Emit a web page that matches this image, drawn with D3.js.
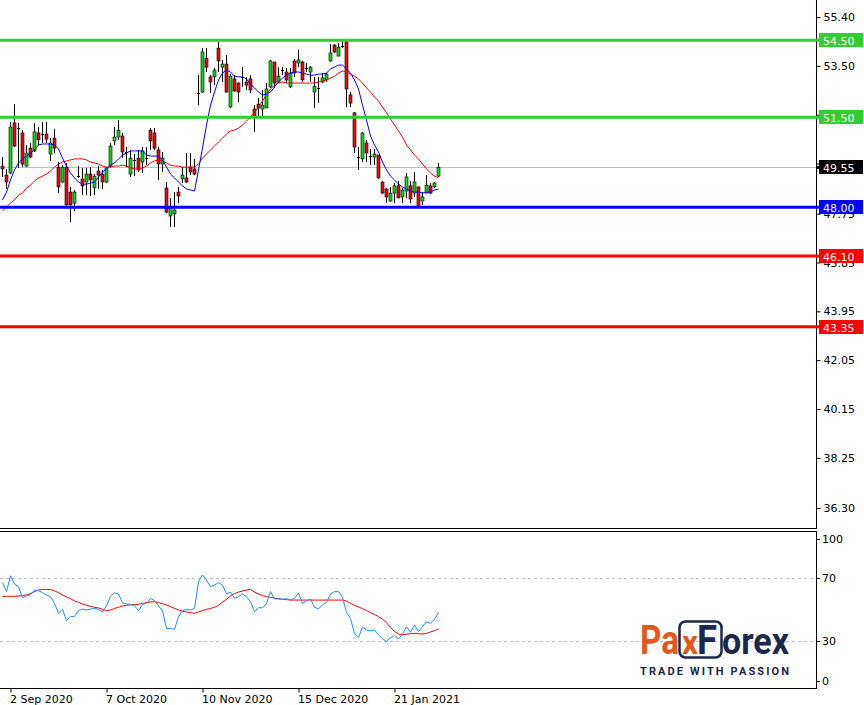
<!DOCTYPE html>
<html><head><meta charset="utf-8">
<script src="https://cdn.jsdelivr.net/npm/d3@7"></script>
<style>body{margin:0;background:#fff}svg{display:block}</style>
</head><body><svg id="c" width="864" height="705"></svg>
<script>
// ---------- data ----------
const openP = [49.60,49.25,49.33,51.28,51.08,50.89,49.60,50.30,50.19,50.89,
50.85,50.85,50.07,50.69,49.56,48.98,49.56,48.59,48.16,49.21,
49.10,48.98,49.29,48.75,49.41,49.29,48.98,49.60,50.58,50.73,
50.77,50.15,49.29,49.84,49.91,49.76,49.91,51.00,50.89,50.23,
49.68,48.75,47.66,47.74,48.59,49.10,49.14,49.56,49.49,52.44,
52.48,53.80,53.07,53.07,54.19,53.45,53.57,51.90,52.99,52.83,
53.07,52.87,52.99,51.82,52.01,51.82,51.86,52.68,53.65,52.87,
53.34,53.26,52.68,53.69,53.61,53.65,53.42,53.26,52.48,52.64,
52.87,52.95,53.69,54.31,53.88,54.27,54.43,52.37,51.67,49.95,
49.88,50.50,49.99,49.95,50.03,48.98,48.71,48.24,48.55,48.83,
48.40,48.63,48.83,48.55,48.79,48.24,48.55,48.83,48.79,49.21];
const highP = [49.95,49.49,51.32,52.01,51.28,51.00,50.42,50.50,51.28,51.12,
51.32,51.32,50.69,51.04,49.76,49.64,49.72,48.79,48.67,49.60,
49.53,49.53,49.56,49.29,49.60,49.45,49.56,50.50,51.12,51.39,
50.89,50.34,50.23,50.07,50.23,50.34,50.34,51.08,51.08,50.34,
50.15,48.98,48.36,48.59,48.79,49.56,50.11,50.11,49.88,53.14,
54.19,54.19,53.14,53.42,54.43,53.73,53.92,53.18,53.14,52.87,
53.45,53.07,53.14,51.97,52.25,52.56,52.83,53.73,53.65,53.45,
53.45,53.42,53.42,53.77,54.12,53.69,53.61,53.49,53.07,53.07,
53.22,53.22,54.35,54.35,54.39,54.54,54.47,52.48,51.70,50.34,
50.93,50.62,50.27,50.27,50.03,49.02,48.75,48.79,48.94,49.02,
48.75,49.33,49.02,49.37,48.79,48.59,49.25,48.94,48.98,49.72];
const lowP = [49.18,48.71,49.29,50.34,49.53,49.56,49.56,49.91,50.15,50.42,
50.50,50.50,49.80,50.11,48.55,48.94,48.01,47.42,47.85,49.14,
48.47,48.47,48.44,48.47,48.71,48.71,48.94,49.56,50.42,50.62,
49.91,49.56,49.18,49.21,49.37,49.33,49.64,50.23,50.23,49.06,
49.37,47.77,47.23,47.23,48.16,48.94,48.94,49.25,49.25,51.97,
52.44,53.26,52.44,52.75,53.26,52.87,52.44,51.86,52.48,52.09,
52.68,52.56,52.44,50.93,51.51,51.51,51.86,52.64,52.64,52.83,
53.14,52.83,52.64,53.07,53.45,52.87,53.26,52.87,51.86,52.05,
52.83,52.87,53.65,54.00,53.88,54.19,51.90,51.90,50.11,49.45,
49.76,49.76,49.64,49.64,49.10,48.51,48.16,48.20,48.16,48.36,
48.16,48.36,48.16,48.40,48.01,48.09,48.55,48.51,48.75,49.18];
const closeP = [49.49,48.98,51.12,50.38,51.04,49.68,50.11,49.95,50.93,50.62,
50.81,50.65,50.50,50.30,48.79,49.56,48.09,48.09,48.59,49.18,
48.83,49.29,49.06,49.21,49.25,48.98,49.53,50.38,50.73,51.00,
50.15,50.11,49.91,49.80,49.45,50.19,49.88,50.58,50.30,49.68,
49.91,47.81,47.97,47.89,48.44,49.25,48.98,49.37,49.29,52.42,
54.04,53.45,52.87,53.34,53.69,53.57,52.48,53.10,52.52,52.48,
53.03,52.75,52.56,51.51,51.86,51.97,52.60,53.69,52.83,53.10,
53.30,52.95,53.22,53.22,53.73,52.95,53.38,53.45,52.71,52.60,
53.03,53.18,54.00,54.04,54.23,54.25,52.60,52.05,50.34,49.91,
50.89,50.11,49.95,50.07,49.14,48.55,48.40,48.55,48.83,48.36,
48.67,49.18,48.32,48.98,48.01,48.40,48.86,48.55,48.94,49.55];
const maFast = [48.28,48.59,49.06,49.45,49.72,49.88,49.99,50.11,50.23,50.42,
50.46,50.46,50.46,50.42,50.27,49.91,49.60,49.33,49.14,48.98,
48.90,48.90,48.94,48.98,49.18,49.37,49.49,49.64,49.72,49.88,
50.03,50.11,50.19,50.19,50.19,50.19,50.03,49.99,49.99,49.99,
49.84,49.56,49.29,49.14,48.98,48.83,48.71,48.67,48.63,49.45,
50.30,51.20,51.97,52.48,52.95,53.22,53.34,53.26,53.10,53.07,
53.07,52.99,52.79,52.64,52.48,52.37,52.40,52.48,52.68,52.87,
53.03,53.14,53.22,53.26,53.26,53.22,53.18,53.14,53.14,53.18,
53.18,53.22,53.38,53.45,53.53,53.53,53.38,53.22,52.95,52.60,
51.97,51.39,50.77,50.42,50.15,49.76,49.45,49.21,49.06,48.90,
48.79,48.71,48.63,48.59,48.59,48.55,48.59,48.59,48.67,48.71];
const maSlow = [47.85,48.01,48.16,48.28,48.47,48.55,48.75,48.86,49.02,49.14,
49.21,49.29,49.41,49.56,49.68,49.76,49.80,49.84,49.88,49.88,
49.88,49.84,49.76,49.72,49.68,49.60,49.56,49.56,49.60,49.60,
49.64,49.60,49.53,49.49,49.49,49.53,49.60,49.72,49.80,49.84,
49.80,49.72,49.64,49.60,49.60,49.56,49.56,49.56,49.56,49.68,
49.91,50.07,50.23,50.38,50.54,50.69,50.85,50.97,51.00,51.08,
51.20,51.35,51.51,51.70,51.90,52.13,52.37,52.60,52.75,52.83,
52.87,52.83,52.83,52.83,52.83,52.83,52.83,52.83,52.83,52.87,
52.91,52.95,53.03,53.10,53.22,53.30,53.26,53.18,53.10,52.99,
52.83,52.64,52.48,52.29,52.13,51.90,51.67,51.43,51.20,50.97,
50.73,50.42,50.23,50.03,49.88,49.68,49.49,49.33,49.21,49.14];
const rsi = [67.1,61.4,71.5,66.2,64.5,57.5,58.6,59.4,62.4,62.0,
60.7,59.2,58.2,53.9,47.6,50.1,42.9,45.6,45.6,49.3,
50.3,49.7,50.3,50.7,50.1,48.4,52.2,58.2,60.7,59.9,
54.3,53.5,53.3,52.4,49.2,53.3,53.9,57.1,55.6,52.2,
49.3,38.0,37.8,37.4,45.4,49.5,50.1,49.7,50.7,67.7,
72.0,68.8,64.5,65.6,67.1,65.6,59.9,61.1,57.1,58.2,
59.9,58.2,55.0,48.6,51.2,51.0,53.9,61.4,56.7,56.7,
56.5,56.9,56.1,57.1,60.3,53.9,55.4,56.7,51.4,50.5,
52.9,54.6,59.9,61.4,61.4,57.8,48.0,44.2,34.8,32.3,
38.7,36.9,36.5,36.9,33.8,31.4,29.5,32.0,33.6,31.2,
34.4,39.0,35.5,40.1,35.9,39.0,42.2,41.2,43.8,48.0];
const rsiSignal = [58.2,58.4,58.4,58.4,58.6,58.8,59.4,60.1,61.4,62.4,
62.8,62.8,62.8,61.8,60.7,59.2,58.0,56.9,55.4,54.6,
53.5,52.7,52.0,51.4,51.0,50.1,49.3,49.7,50.7,51.4,
52.2,52.7,52.9,53.1,53.3,53.9,54.3,54.8,55.0,54.3,
53.7,52.9,51.8,50.7,49.7,49.0,48.4,48.0,47.6,48.4,
49.3,50.1,50.7,51.4,52.7,54.6,56.5,58.6,60.1,61.1,
61.8,62.4,62.8,61.1,59.9,58.8,58.2,57.7,57.3,56.9,
56.5,56.3,56.0,56.0,56.0,56.0,56.0,56.0,56.0,56.0,
56.0,56.0,56.0,56.0,56.0,56.0,55.4,53.9,52.7,51.6,
50.5,49.3,48.0,46.9,45.4,43.9,41.6,38.6,36.1,34.4,
33.8,34.2,34.6,34.8,34.6,34.4,34.8,35.7,36.5,37.6];
const priceTicks = [55.40,53.50,51.60,49.70,47.75,45.85,43.95,42.05,40.15,38.25,36.30];
const rsiTicks = [100,70,30,0];
const rsiLevels = [70,30];
const dateTickBars = [2,26,50,74,98];
const dateTickLabels = ["2 Sep 2020","7 Oct 2020","10 Nov 2020","15 Dec 2020","21 Jan 2021"];
const levelValues = [54.50,51.50,48.00,46.10,43.35];
const levelKinds = ["resistance","resistance","pivot","support","support"];
const lastPrice = 49.55;

// ---------- layout / style ----------
const plotR = 816, mainTop = 0, mainBot = 528, subTop = 531, subBot = 688;
const FONT = "DejaVu Sans";
const kindColor = {resistance:"#32CD32", pivot:"#0000FF", support:"#FF0000"};
const BULL = "#00E000", BEAR = "#FF0000";

const svg = d3.select("#c");
const nBars = openP.length;
const x = d3.scaleLinear().domain([-0.625, 203.375]).range([0, plotR]);
const y = d3.scaleLinear().domain([55.40, 36.30]).range([17, 508]);
const yr = d3.scaleLinear().domain([100, 0]).range([subTop, subBot]);

svg.append("defs").append("clipPath").attr("id","clipMain")
  .append("rect").attr("x",0).attr("y",mainTop).attr("width",plotR).attr("height",mainBot-mainTop);
svg.select("defs").append("clipPath").attr("id","clipSub")
  .append("rect").attr("x",0).attr("y",subTop).attr("width",plotR).attr("height",subBot-subTop);

const main = svg.append("g").attr("clip-path","url(#clipMain)");
// current price line
main.append("line").attr("x1",0).attr("x2",plotR)
  .attr("y1",Math.round(y(lastPrice))+0.5).attr("y2",Math.round(y(lastPrice))+0.5)
  .attr("stroke","#C0C0C0").attr("stroke-width",1);

// candles
const idx = d3.range(nBars);
const cg = main.append("g");
idx.forEach(i=>{
  const cx = x(i);
  const o=openP[i], c=closeP[i];
  cg.append("line").attr("x1",cx).attr("x2",cx)
    .attr("y1",y(highP[i])).attr("y2",y(lowP[i]))
    .attr("stroke","#000").attr("stroke-width",1);
  const top = y(Math.max(o,c)), bot = y(Math.min(o,c));
  if (bot-top < 1.5) {
    cg.append("line").attr("x1",cx-1.5).attr("x2",cx+1.5)
      .attr("y1",Math.round(top)+0.5).attr("y2",Math.round(top)+0.5)
      .attr("stroke","#000").attr("stroke-width",1);
  } else {
    cg.append("rect").attr("x",cx-1.5).attr("width",3)
      .attr("y",top).attr("height",bot-top)
      .attr("fill", c>=o?BULL:BEAR).attr("stroke","#000").attr("stroke-width",0.6);
  }
});

// moving averages
const line = d3.line().x((d,i)=>x(i)).y(d=>y(d));
main.append("path").datum(maSlow).attr("d",line).attr("fill","none").attr("stroke","#FF0000").attr("stroke-width",1);
main.append("path").datum(maFast).attr("d",line).attr("fill","none").attr("stroke","#0000FF").attr("stroke-width",1);

// horizontal levels
levelValues.forEach((v,i)=>{
  main.append("line").attr("x1",0).attr("x2",plotR).attr("y1",y(v)).attr("y2",y(v))
    .attr("stroke",kindColor[levelKinds[i]]).attr("stroke-width",3);
});

// price axis
svg.append("line").attr("x1",plotR+0.5).attr("x2",plotR+0.5).attr("y1",0).attr("y2",mainBot)
  .attr("stroke","#000");
const pAxis = svg.append("g").attr("transform",`translate(${plotR+0.5},0)`)
  .call(d3.axisRight(y).tickValues(priceTicks).tickSize(4).tickPadding(3).tickFormat(d=>d.toFixed(2)));
pAxis.select(".domain").remove();
pAxis.selectAll("text").attr("font-family",FONT).attr("font-size",11).attr("fill","#000");

// level labels
function tagLabel(v, bg){
  const yy = y(v);
  svg.append("line").attr("x1",plotR).attr("x2",plotR+4).attr("y1",yy).attr("y2",yy).attr("stroke",bg).attr("stroke-width",3);
  svg.append("rect").attr("x",plotR+3).attr("y",Math.round(yy)-7).attr("width",44).attr("height",14).attr("fill",bg);
  svg.append("text").attr("x",plotR+7).attr("y",Math.round(yy)+4.5).text(v.toFixed(2))
    .attr("font-family",FONT).attr("font-size",11).attr("fill","#fff");
}
levelValues.forEach((v,i)=>tagLabel(v, kindColor[levelKinds[i]]));
tagLabel(lastPrice, "#000");

// panel borders
svg.append("line").attr("x1",0).attr("x2",plotR+1).attr("y1",mainBot+0.5).attr("y2",mainBot+0.5).attr("stroke","#000");
svg.append("line").attr("x1",0).attr("x2",plotR+1).attr("y1",subTop+0.5).attr("y2",subTop+0.5).attr("stroke","#000");
svg.append("line").attr("x1",0).attr("x2",plotR+1).attr("y1",subBot+0.5).attr("y2",subBot+0.5).attr("stroke","#000");
svg.append("line").attr("x1",plotR+0.5).attr("x2",plotR+0.5).attr("y1",subTop).attr("y2",subBot+1).attr("stroke","#000");

// ---------- RSI panel ----------
const sub = svg.append("g").attr("clip-path","url(#clipSub)");
rsiLevels.forEach(v=>{
  sub.append("line").attr("x1",0).attr("x2",plotR).attr("y1",Math.round(yr(v))+0.5).attr("y2",Math.round(yr(v))+0.5)
    .attr("stroke","#C0C0C0").attr("stroke-dasharray","3,3");
});
const rline = d3.line().x((d,i)=>x(i)).y(d=>yr(d));
sub.append("path").datum(rsiSignal).attr("d",rline).attr("fill","none").attr("stroke","#FF0000").attr("stroke-width",1);
sub.append("path").datum(rsi).attr("d",rline).attr("fill","none").attr("stroke","#1E90FF").attr("stroke-width",1);

rsiTicks.forEach(v=>{
  const yy = yr(v);
  let base = yy + 4;
  if (v===100) base = yy + 12;
  if (v===0) base = yy - 3;
  svg.append("line").attr("x1",plotR).attr("x2",plotR+4).attr("y1",Math.round(base-4)+0.5).attr("y2",Math.round(base-4)+0.5).attr("stroke","#000");
  svg.append("text").attr("x",plotR+6).attr("y",base).text(v)
    .attr("font-family",FONT).attr("font-size",11).attr("fill","#000");
});

// ---------- date axis ----------
const xAxis = svg.append("g").attr("transform",`translate(0,${subBot+0.5})`)
  .call(d3.axisBottom(x).tickValues(dateTickBars).tickSize(4).tickFormat((d,i)=>dateTickLabels[i]));
xAxis.select(".domain").remove();
xAxis.selectAll("text").attr("text-anchor","start").attr("dx",-1).attr("y",7)
  .attr("font-family",FONT).attr("font-size",11).attr("fill","#000");

// ---------- logo ----------
const ORANGE="#E8561E", NAVY="#1C2849";
const logo = svg.append("g").attr("font-family","Roboto").attr("font-weight",700);
logo.append("text").attr("x",640).attr("y",654).attr("font-size",40).attr("fill",ORANGE)
  .attr("textLength",39).attr("lengthAdjust","spacingAndGlyphs").text("Pa");
logo.append("rect").attr("x",679.5).attr("y",621.5).attr("width",42).attr("height",36).attr("rx",6)
  .attr("fill","none").attr("stroke",NAVY).attr("stroke-width",2.5);
logo.append("text").attr("x",682).attr("y",654).attr("font-size",34).attr("fill",ORANGE)
  .attr("textLength",16).attr("lengthAdjust","spacingAndGlyphs").text("x");
logo.append("text").attr("x",697).attr("y",654).attr("font-size",40).attr("fill",NAVY)
  .attr("textLength",20).attr("lengthAdjust","spacingAndGlyphs").text("F");
logo.append("text").attr("x",722).attr("y",654).attr("font-size",36).attr("fill",NAVY)
  .attr("textLength",67).attr("lengthAdjust","spacingAndGlyphs").text("orex");
logo.append("text").attr("x",640).attr("y",675).attr("font-size",11).attr("fill",NAVY)
  .attr("textLength",149).attr("lengthAdjust","spacing").text("TRADE WITH PASSION");
</script></body></html>
